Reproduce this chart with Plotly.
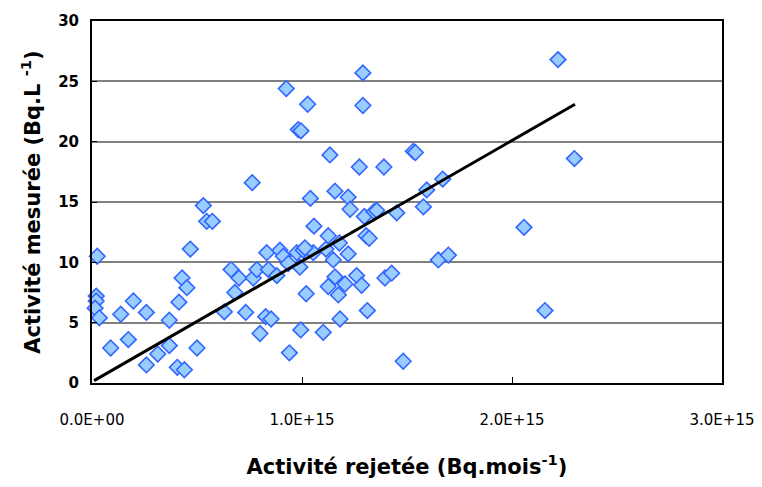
import plotly.graph_objects as go

# Released activity (units of 1e15 Bq/month) and measured activity (Bq/L)
released_e15 = [
    0.025, 0.020, 0.020, 0.015, 0.035,
    0.089, 0.137, 0.173, 0.197, 0.259, 0.259, 0.313, 0.368, 0.368, 0.414,
    0.429, 0.452, 0.468, 0.406, 0.440, 0.500,
    0.530, 0.546, 0.573,
    0.630, 0.662, 0.680, 0.700, 0.732, 0.763,
    0.768, 0.785, 0.800, 0.827, 0.853, 0.832, 0.840, 0.880, 0.895, 0.911,
    0.925, 0.935, 0.940, 0.975, 0.982, 0.995, 0.990, 0.994, 1.006, 1.020,
    1.027, 1.040, 1.057, 1.054, 1.014, 1.101, 1.114, 1.125, 1.125, 1.133,
    1.149, 1.157, 1.157, 1.173, 1.178, 1.181, 1.205, 1.220, 1.220, 1.229,
    1.260, 1.273, 1.284, 1.290, 1.290, 1.297, 1.305, 1.311, 1.320, 1.343,
    1.356, 1.390, 1.395, 1.427, 1.451, 1.482, 1.530, 1.540, 1.578, 1.594,
    1.649, 1.670, 1.697, 2.057, 2.157, 2.219, 2.297,
]
measured = [
    10.5, 7.2, 6.8, 6.2, 5.4,
    2.9, 5.7, 3.6, 6.8, 5.85, 1.5, 2.4, 3.1, 5.2, 6.7,
    8.7, 7.9, 11.1, 1.3, 1.1, 2.9,
    14.7, 13.4, 13.4,
    5.9, 9.4, 7.5, 8.7, 5.85, 16.6,
    8.7, 9.4, 4.1, 5.5, 5.3, 10.8, 9.4, 8.9, 11.0, 10.5,
    24.4, 9.9, 2.5, 10.8, 21.0, 20.9, 9.6, 4.4, 11.0, 7.4,
    23.1, 15.3, 13.0, 10.8, 11.2, 4.2, 11.1, 12.2, 8.0, 18.9,
    10.2, 15.9, 8.8, 7.3, 11.6, 5.3, 8.2, 15.4, 10.7, 14.4,
    8.9, 17.9, 8.1, 25.7, 23.0, 13.8, 12.2, 6.0, 12.0, 14.2,
    14.3, 17.9, 8.7, 9.1, 14.1, 1.8, 19.2, 19.1, 14.6, 16.0,
    10.2, 16.9, 10.6, 12.9, 6.0, 26.8, 18.6,
]

# Linear trend line (y = slope * x + intercept), x in 1e15 units
trend_slope = 10.0
trend_intercept = 0.1
trend_x_range = [0.01, 2.30]

x_ticks = [0, 1e15, 2e15, 3e15]
x_tick_labels = ["0.0E+00", "1.0E+15", "2.0E+15", "3.0E+15"]
y_ticks = [0, 5, 10, 15, 20, 25, 30]

x_vals = [v * 1e15 for v in released_e15]
trend_x = [v * 1e15 for v in trend_x_range]
trend_y = [trend_slope * v + trend_intercept for v in trend_x_range]

fig = go.Figure()
fig.add_trace(go.Scatter(
    x=x_vals, y=measured, mode="markers",
    marker=dict(symbol="diamond", size=12, color="#99CCFF",
                line=dict(color="#3366FF", width=1.6)),
    showlegend=False, cliponaxis=False,
))
fig.add_trace(go.Scatter(
    x=trend_x, y=trend_y, mode="lines",
    line=dict(color="black", width=3),
    showlegend=False,
))

fig.update_layout(
    width=762, height=487,
    margin=dict(l=84, r=48, t=13, b=112),
    paper_bgcolor="white", plot_bgcolor="white",
    font=dict(family="DejaVu Sans", color="black"),
    xaxis=dict(
        range=[0, 3e15], tickvals=x_ticks, ticktext=x_tick_labels,
        automargin=False,
        showgrid=False, zeroline=False,
        showline=True, linecolor="black", linewidth=2, mirror=True,
        ticks="inside", ticklen=6, tickcolor="black",
        ticklabelstandoff=22,
        tickfont=dict(family="DejaVu Sans", size=15),
        title=dict(text="Activité rejetée (Bq.mois<sup>-1</sup>)",
                   font=dict(size=21, family="DejaVu Sans", weight="bold"),
                   standoff=31),
    ),
    yaxis=dict(
        range=[0, 30], tickvals=y_ticks,
        automargin=False,
        showgrid=True, gridcolor="#808080", gridwidth=1.5, zeroline=False,
        showline=True, linecolor="black", linewidth=2, mirror=True,
        ticks="inside", ticklen=5, tickcolor="black",
        ticklabelstandoff=8,
        tickfont=dict(size=15, weight="bold"),
        title=dict(text="Activité mesurée (Bq.L <sup>-1</sup>)",
                   font=dict(size=21, family="DejaVu Sans", weight="bold"),
                   standoff=12),
    ),
)

fig.write_html("out.html")
